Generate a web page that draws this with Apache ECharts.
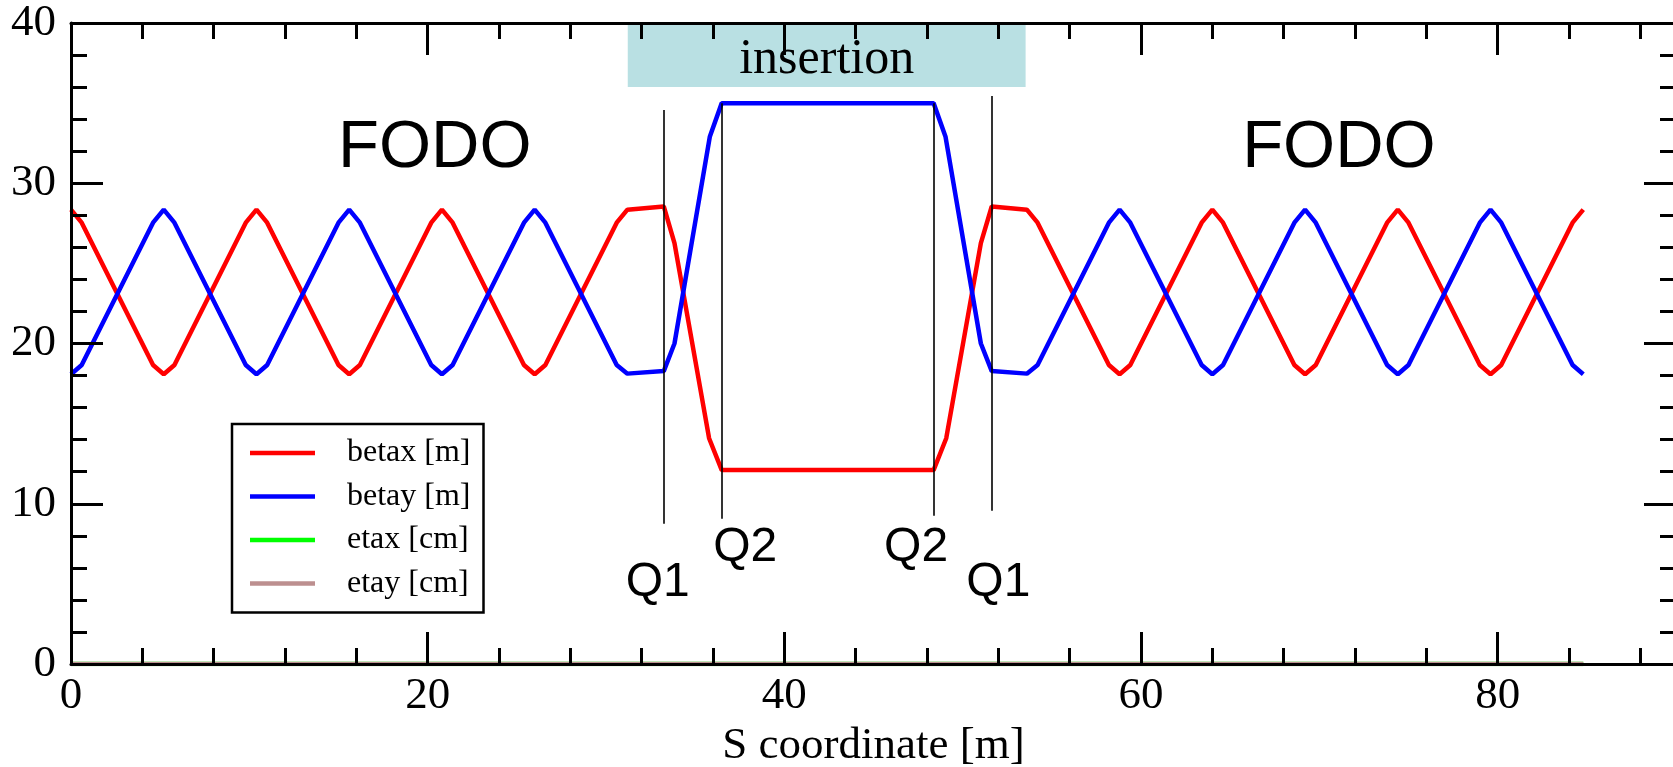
<!DOCTYPE html>
<html>
<head>
<meta charset="utf-8">
<script src="https://cdn.jsdelivr.net/npm/echarts@6/dist/echarts.min.js"></script>
<style>
  html, body { margin: 0; padding: 0; background: #ffffff; }
  #chart { width: 1673px; height: 767px; }
</style>
</head>
<body>
<div id="chart"></div>
<script>
// Twiss functions along the lattice: FODO cells, insertion, FODO cells
const betax = [
  [0, 28.35], [0.6, 27.54], [4.6, 18.66], [5.2, 18.08], [5.8, 18.66],
  [9.8, 27.54], [10.4, 28.35], [11.0, 27.54], [15.0, 18.66], [15.6, 18.08],
  [16.2, 18.66], [20.2, 27.54], [20.8, 28.35], [21.4, 27.54], [25.4, 18.66],
  [26.0, 18.08], [26.6, 18.66], [30.6, 27.54], [31.2, 28.35], [33.24, 28.55],
  [33.84, 26.26], [35.78, 14.09], [36.49, 12.1], [48.37, 12.1], [49.08, 14.09],
  [51.02, 26.26], [51.63, 28.55], [53.6, 28.35], [54.2, 27.54], [58.2, 18.66],
  [58.8, 18.08], [59.4, 18.66], [63.4, 27.54], [64.0, 28.35], [64.6, 27.54],
  [68.6, 18.66], [69.2, 18.08], [69.8, 18.66], [73.8, 27.54], [74.4, 28.35],
  [75.0, 27.54], [79.0, 18.66], [79.6, 18.08], [80.2, 18.66], [84.2, 27.54],
  [84.8, 28.35]
];
const betay = [
  [0, 18.08], [0.6, 18.66], [4.6, 27.54], [5.2, 28.35], [5.8, 27.54],
  [9.8, 18.66], [10.4, 18.08], [11.0, 18.66], [15.0, 27.54], [15.6, 28.35],
  [16.2, 27.54], [20.2, 18.66], [20.8, 18.08], [21.4, 18.66], [25.4, 27.54],
  [26.0, 28.35], [26.6, 27.54], [30.6, 18.66], [31.2, 18.12], [33.24, 18.28],
  [33.84, 20.0], [35.82, 32.9], [36.49, 35.0], [48.37, 35.0], [49.04, 32.9],
  [51.02, 20.0], [51.63, 18.28], [53.6, 18.12], [54.2, 18.66], [58.2, 27.54],
  [58.8, 28.35], [59.4, 27.54], [63.4, 18.66], [64.0, 18.08], [64.6, 18.66],
  [68.6, 27.54], [69.2, 28.35], [69.8, 27.54], [73.8, 18.66], [74.4, 18.08],
  [75.0, 18.66], [79.0, 27.54], [79.6, 28.35], [80.2, 27.54], [84.2, 18.66],
  [84.8, 18.08]
];
const etax = [[0, 0], [84.8, 0]];
const etay = [[0, 0], [84.8, 0]];

const seriesNames = ['betax [m]', 'betay [m]', 'etax [cm]', 'etay [cm]'];

// Quadrupole markers: [label, s, bottom, top]
const quadLines = [
  ['Q1', 33.24, 8.75, 34.57],
  ['Q2', 36.49, 9.06, 35.0],
  ['Q2', 48.37, 9.25, 35.0],
  ['Q1', 51.63, 9.56, 35.45]
];
// Text annotations: [text, s, value]
const quadLabels = [
  ['Q1', 32.9, 5.05],
  ['Q2', 37.81, 7.25],
  ['Q2', 47.39, 7.25],
  ['Q1', 52.0, 5.05]
];
const sectionLabels = [
  ['FODO', 20.4, 32.15],
  ['FODO', 71.1, 32.15]
];
// Insertion band: [sStart, sEnd, yBottom, yTop]
const insertionBand = [31.22, 53.53, 36.0, 40];

const xTickMajor = 20, xTickMinor = 4, yTickMajor = 10;
const xMin = 0, xMax = 90, yMin = 0, yMax = 40;

const serif = 'Liberation Serif';
const sans = 'Liberation Sans';

function xAxisDef(position, interval, major) {
  return {
    type: 'value', position: position, min: xMin, max: xMax, interval: interval, z: 10,
    axisLine: { show: major, onZero: false, lineStyle: { color: '#000', width: 3 } },
    axisTick: { show: true, inside: true, length: major ? 32 : 16, lineStyle: { color: '#000', width: 3 } },
    axisLabel: {
      show: major && position === 'bottom', showMaxLabel: false, margin: 10,
      fontFamily: serif, fontSize: 45, color: '#000'
    },
    splitLine: { show: false }, minorTick: { show: false }, minorSplitLine: { show: false }
  };
}
function yAxisDef(position) {
  return {
    type: 'value', position: position, min: yMin, max: yMax, interval: yTickMajor, z: 10,
    axisLine: { show: true, onZero: false, lineStyle: { color: '#000', width: 3 } },
    axisTick: { show: true, inside: true, length: 32, lineStyle: { color: '#000', width: 3 } },
    minorTick: { show: true, splitNumber: 5, length: 16, lineStyle: { color: '#000', width: 3 } },
    axisLabel: {
      show: position === 'left', margin: 15,
      fontFamily: serif, fontSize: 45, color: '#000'
    },
    splitLine: { show: false }, minorSplitLine: { show: false }
  };
}

const xAxes = [
  xAxisDef('bottom', xTickMajor, true),
  xAxisDef('bottom', xTickMinor, false),
  xAxisDef('top', xTickMajor, true),
  xAxisDef('top', xTickMinor, false)
];
Object.assign(xAxes[0], {
  name: 'S coordinate [m]', nameLocation: 'middle', nameGap: 56,
  nameTextStyle: { fontFamily: serif, fontSize: 45, color: '#000' }
});

function lineSeries(name, data, color, extra) {
  return Object.assign({
    name: name, type: 'line', data: data, xAxisIndex: 0, yAxisIndex: 0,
    showSymbol: false, symbol: 'none', silent: true, z: 2,
    lineStyle: { color: color, width: 4.5 }, itemStyle: { color: color },
    emphasis: { disabled: true }
  }, extra || {});
}

function textLabel(text, size) {
  return {
    show: true, formatter: text, position: [0, 0], align: 'center', verticalAlign: 'middle',
    fontFamily: sans, fontSize: size, color: '#000000', opacity: 1,
    textBorderWidth: 0, textShadowBlur: 0
  };
}
const textItems = quadLabels.map(function (q) {
  return { value: [q[1], q[2]], label: textLabel(q[0], 48) };
}).concat(sectionLabels.map(function (f) {
  return { value: [f[1], f[2]], label: textLabel(f[0], 67) };
}));

const option = {
  animation: false,
  backgroundColor: '#ffffff',
  grid: { left: 71, right: -3, top: 23, bottom: 103, containLabel: false, outerBoundsMode: 'none' },
  xAxis: xAxes,
  yAxis: [yAxisDef('left'), yAxisDef('right')],
  legend: {
    data: seriesNames, orient: 'vertical', left: 232, top: 424,
    padding: [13, 13, 13, 18], itemGap: 11.5, itemWidth: 65, itemHeight: 4.5,
    icon: 'rect', borderColor: '#000', borderWidth: 2.5, backgroundColor: '#fff',
    selectedMode: false,
    textStyle: { fontFamily: serif, fontSize: 32, color: '#000', padding: [0, 0, 0, 27] }
  },
  series: [
    lineSeries(seriesNames[2], etax, '#00ff00', {
      markArea: {
        silent: true,
        itemStyle: { color: '#b9e0e3' },
        label: { show: true, position: 'inside', offset: [0, 5], fontFamily: serif, fontSize: 50, color: '#000' },
        data: [[
          { name: 'insertion', coord: [insertionBand[0], insertionBand[2]] },
          { coord: [insertionBand[1], insertionBand[3]] }
        ]]
      },
      markLine: {
        silent: true, symbol: ['none', 'none'],
        label: { show: false },
        lineStyle: { color: '#000', width: 1.6, type: 'solid' },
        data: quadLines.map(function (q) {
          return [{ coord: [q[1], q[2]] }, { coord: [q[1], q[3]] }];
        })
      }
    }),
    lineSeries(seriesNames[3], etay, '#bc8f8f'),
    lineSeries(seriesNames[0], betax, '#ff0000'),
    lineSeries(seriesNames[1], betay, '#0000ff'),
    {
      type: 'scatter', xAxisIndex: 0, yAxisIndex: 0, symbolSize: 0, silent: true, z: 5,
      itemStyle: { color: '#000000', opacity: 1 },
      emphasis: { disabled: true },
      label: { show: true, color: '#000000' },
      data: textItems
    }
  ]
};

const chart = echarts.init(document.getElementById('chart'), null, { renderer: 'canvas' });
chart.setOption(option);
</script>
</body>
</html>
